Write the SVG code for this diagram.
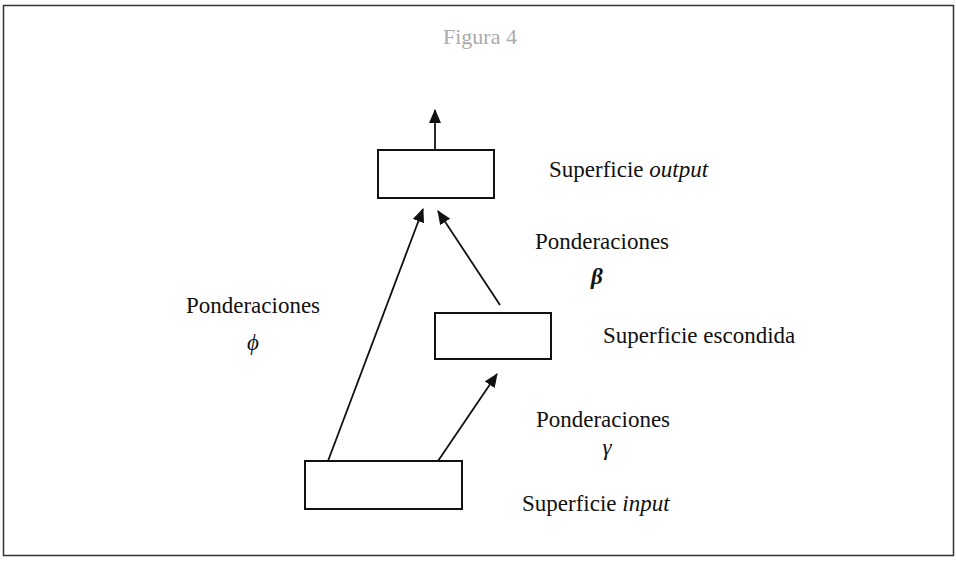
<svg xmlns="http://www.w3.org/2000/svg" width="956" height="569" viewBox="0 0 956 569">
<style>
.t{font-family:"Liberation Serif","Times New Roman",serif;font-size:23px;fill:#111}
.g{font-family:"Liberation Serif","Times New Roman",serif;font-size:23px;font-style:italic;fill:#111}
.box{fill:#fff;stroke:#111;stroke-width:2}
.c{stroke:#111;stroke-width:1.8;fill:none;marker-end:url(#ah)}
</style>
<defs>
<marker id="ah" markerWidth="14" markerHeight="12" refX="13" refY="6" orient="auto" markerUnits="userSpaceOnUse">
<path d="M0,0 L14,6 L0,12 Z" fill="#111"/>
</marker>
</defs>
<rect x="0" y="0" width="956" height="569" fill="#fff"/>
<rect x="3.5" y="5.5" width="950" height="550" fill="none" stroke="#333" stroke-width="1.5"/>
<text x="480" y="44" text-anchor="middle" font-family="Liberation Serif, serif" font-size="22" fill="#aaa">Figura 4</text>
<g id="connectors">
<line class="c" x1="435" y1="150" x2="435" y2="110"/>
<line class="c" x1="328" y1="461" x2="423" y2="209"/>
<line class="c" x1="500" y1="305" x2="438" y2="211"/>
<line class="c" x1="438" y1="461" x2="497" y2="374"/>
</g>
<g id="output">
<rect class="box" x="378" y="150" width="116" height="48"/>
<text class="t" x="549" y="177">Superficie <tspan font-style="italic">output</tspan></text>
</g>
<g id="hidden">
<rect class="box" x="435" y="313" width="116" height="46"/>
<text class="t" x="603" y="343">Superficie escondida</text>
</g>
<g id="input">
<rect class="box" x="305" y="461" width="157" height="48"/>
<text class="t" x="522" y="511">Superficie <tspan font-style="italic">input</tspan></text>
</g>
<g id="label-beta">
<text class="t" x="602" y="249" text-anchor="middle">Ponderaciones</text>
<text class="g" x="597" y="284" text-anchor="middle" font-weight="bold">β</text>
</g>
<g id="label-phi">
<text class="t" x="253" y="313" text-anchor="middle">Ponderaciones</text>
<text class="g" x="253" y="350" text-anchor="middle">ϕ</text>
</g>
<g id="label-gamma">
<text class="t" x="603" y="427" text-anchor="middle">Ponderaciones</text>
<text class="g" x="607" y="455" text-anchor="middle">γ</text>
</g>
</svg>
